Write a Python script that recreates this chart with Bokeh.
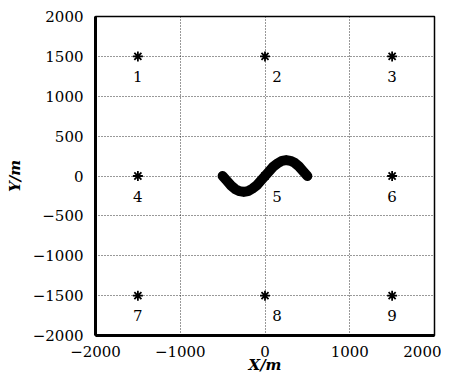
from bokeh.plotting import figure
from bokeh.models import ColumnDataSource, FixedTicker, Range1d
from bokeh.core.properties import value
from bokeh.embed import file_html
from bokeh.resources import INLINE

# Station positions and labels
station_x = [-1500, 0, 1500, -1500, 0, 1500, -1500, 0, 1500]
station_y = [1500, 1500, 1500, 0, 0, 0, -1500, -1500, -1500]
station_labels = ["1", "2", "3", "4", "5", "6", "7", "8", "9"]

# Trajectory
curve_x = [-500, -450, -400, -350, -300, -250, -200, -150, -100, -50, 0,
           50, 100, 150, 200, 250, 300, 350, 400, 450, 500]
curve_y = [0, -60, -120, -165, -190, -200, -190, -160, -120, -60, 0,
           60, 120, 160, 190, 200, 190, 165, 120, 60, 0]

x_ticks = [-2000, -1000, 0, 1000, 2000]
y_ticks = [-2000, -1500, -1000, -500, 0, 500, 1000, 1500, 2000]

FONT = "DejaVu Serif"

p = figure(width=441, height=376, output_backend="svg", toolbar_location=None,
           x_range=Range1d(-2000, 2000), y_range=Range1d(-2000, 2000),
           min_border_left=95, min_border_right=7, min_border_top=16,
           min_border_bottom=40)

# offsets so labels on the x=0 column sit right of the grid line
x_off = [12 if x == 0 else 0 for x in station_x]
src = ColumnDataSource(dict(x=station_x, y=station_y, t=station_labels, xo=x_off))

p.line(curve_x, curve_y, line_width=10, line_color="black", line_cap="round",
       line_join="round")
p.scatter("x", "y", source=src, marker="asterisk", size=10, line_width=1.8,
          line_color="black")
p.text("x", "y", text="t", source=src, x_offset="xo", y_offset=20,
       text_align="center", text_baseline="middle",
       text_font=value(FONT), text_font_size="15px", text_color="black")

for ax in (p.xaxis, p.yaxis):
    ax.major_label_text_font = FONT
    ax.major_label_text_font_size = "15px"
    ax.major_label_text_color = "black"
    ax.major_tick_line_color = None
    ax.minor_tick_line_color = None
    ax.axis_line_width = 3
    ax.axis_line_color = "black"
    ax.axis_label_text_font = FONT
    ax.axis_label_text_font_size = "15px"
    ax.axis_label_text_font_style = "bold italic"
    ax.axis_label_text_color = "black"

p.xaxis.ticker = FixedTicker(ticks=x_ticks)
p.yaxis.ticker = FixedTicker(ticks=y_ticks)
p.xaxis.major_label_standoff = 4
p.yaxis.major_label_standoff = 6
p.xaxis.axis_label = "X/m"
p.yaxis.axis_label = "Y/m"
p.xaxis.axis_label_standoff = -4
p.yaxis.axis_label_standoff = 6

p.grid.grid_line_color = "black"
p.grid.grid_line_dash = "1 2"
p.grid.grid_line_width = 1
p.grid.grid_line_alpha = 0.8

p.outline_line_color = "black"
p.outline_line_width = 1.5
p.outline_line_alpha = 1
p.background_fill_color = "white"
p.border_fill_color = "white"

open("out.html", "w").write(file_html(p, INLINE))
